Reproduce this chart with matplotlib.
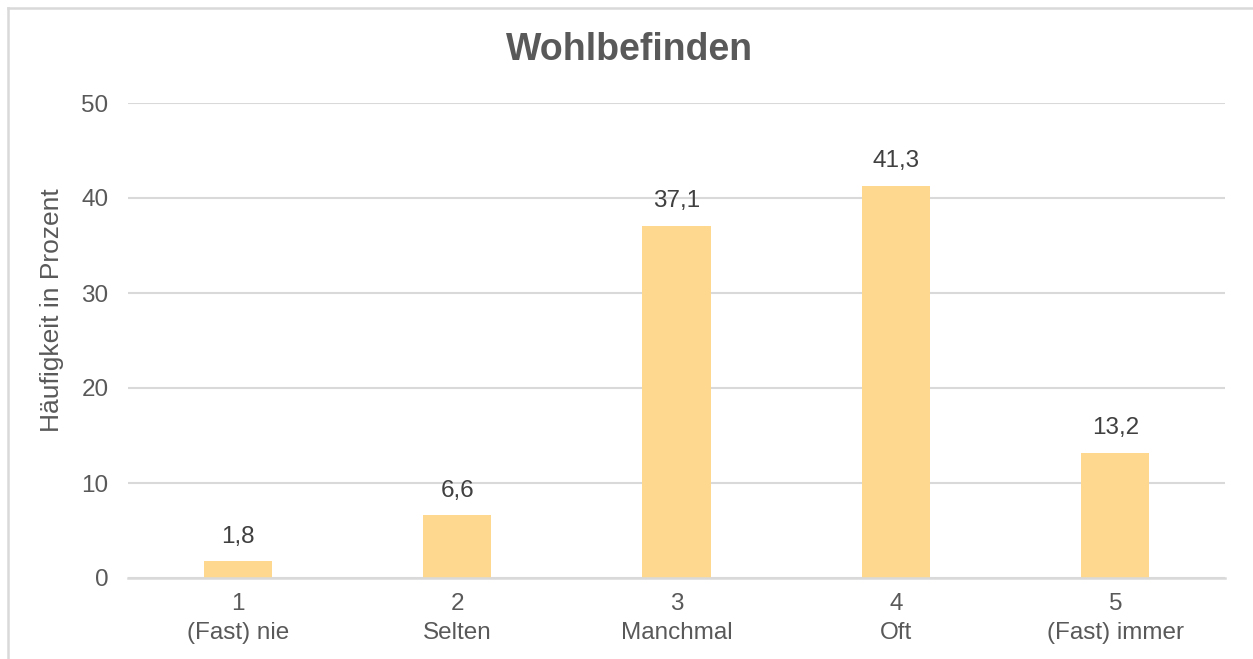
import matplotlib
matplotlib.use('Agg')
import matplotlib.pyplot as plt
import numpy as np
from matplotlib.lines import Line2D

plt.rcParams['font.family'] = ['Liberation Sans', 'DejaVu Sans']

# Daten
kategorien = ['1\n(Fast) nie', '2\nSelten', '3\nManchmal', '4\nOft', '5\n(Fast) immer']
werte = [1.8, 6.6, 37.1, 41.3, 13.2]
wert_labels = ['1,8', '6,6', '37,1', '41,3', '13,2']

grau = '#595959'
gitter = '#D9D9D9'
balken_farbe = '#FFD88F'

W, H = 1253, 659
fig = plt.figure(figsize=(W / 100, H / 100), dpi=100)
ax = fig.add_axes([128 / W, 1 - 578 / H, (1225 - 128) / W, (578 - 103) / H])

x = np.arange(len(werte))
ax.bar(x, werte, width=0.31, color=balken_farbe, zorder=3)

for i in range(len(werte)):
    ax.annotate(wert_labels[i], (x[i], werte[i]), xytext=(0, 9.5), textcoords='offset points',
                ha='center', va='bottom', fontsize=17.5, color='#404040')

ax.set_xlim(-0.5, len(werte) - 0.5)
ax.set_ylim(0, 50)
ax.set_yticks([0, 10, 20, 30, 40, 50])
ax.set_xticks(x)
ax.set_xticklabels(kategorien, linespacing=1.38)
ax.tick_params(axis='both', length=0, labelsize=17.5, labelcolor=grau)
ax.tick_params(axis='y', pad=14)
ax.tick_params(axis='x', pad=11)
ax.yaxis.grid(True, color=gitter, linewidth=1.5, zorder=0)
for s in ['top', 'right', 'left']:
    ax.spines[s].set_visible(False)
ax.spines['bottom'].set_color(gitter)
ax.spines['bottom'].set_linewidth(1.8)
ax.spines['bottom'].set_zorder(4)

ax.set_ylabel('Häufigkeit in Prozent', fontsize=19, color=grau)
ax.yaxis.set_label_coords(-0.058, (578 - 310) / 475)
fig.text(630 / W, 1 - 50 / H, 'Wohlbefinden', ha='center', va='center',
         fontsize=27, fontweight='bold', color=grau)

# Rahmen des Diagramms (links und oben sichtbar)
fig.add_artist(Line2D([7.5 / W, 7.5 / W], [0, 1 - 7.5 / H], color=gitter, linewidth=1.8))
fig.add_artist(Line2D([7.5 / W, 1], [1 - 7.5 / H, 1 - 7.5 / H], color=gitter, linewidth=1.8))

fig.savefig('out.png', dpi=100, facecolor='white')
